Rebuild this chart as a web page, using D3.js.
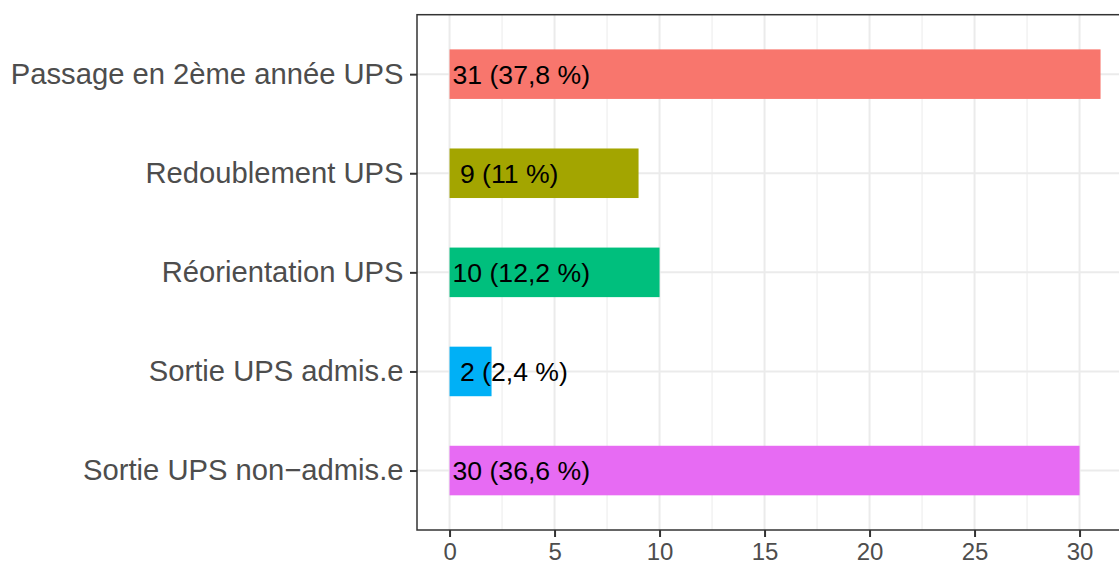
<!DOCTYPE html>
<html>
<head>
<meta charset="utf-8">
<script src="https://cdn.jsdelivr.net/npm/d3@7"></script>
<style>
  body { margin: 0; background: #fff; }
  text { font-family: "Liberation Sans", Arial, sans-serif; }
</style>
</head>
<body>
<div id="chart"></div>
<script>
var categories = ["Passage en 2ème année UPS", "Redoublement UPS", "Réorientation UPS",
    "Sortie UPS admis.e", "Sortie UPS non\u2212admis.e"];
var counts = [31, 9, 10, 2, 30];
var labels = ["31 (37,8 %)", " 9 (11 %)", "10 (12,2 %)", " 2 (2,4 %)", "30 (36,6 %)"];
var colours = ["#F8766D", "#A3A500", "#00BF7D", "#00B0F6", "#E76BF3"];
var xTicks = [0, 5, 10, 15, 20, 25, 30];
var xMinor = [2.5, 7.5, 12.5, 17.5, 22.5, 27.5, 32.5];

var width = 1119, height = 563;
var panel = { left: 417, top: 14.7, bottom: 530 };

var maxV = d3.max(counts);
var pad = maxV * 0.05;
var x = d3.scaleLinear()
    .domain([-pad, maxV + pad])
    .range([panel.left, panel.left + (maxV + 2 * pad) * 21]);

// discrete scale with 0.6 expansion on each side
var unit = (panel.bottom - panel.top) / (categories.length - 1 + 1.2);
var yc = d3.scalePoint()
    .domain(categories)
    .range([panel.top + 0.6 * unit, panel.bottom - 0.6 * unit]);
var barH = unit * 0.5;

var svg = d3.select("#chart")
    .append("svg")
    .attr("width", width)
    .attr("height", height);

var panelRight = x.range()[1];

// grid
svg.selectAll(".minor")
    .data(xMinor)
    .enter()
      .append("line")
      .attr("x1", function (d) { return x(d); })
      .attr("x2", function (d) { return x(d); })
      .attr("y1", panel.top)
      .attr("y2", panel.bottom)
      .attr("stroke", "#EBEBEB")
      .attr("stroke-width", 1);

svg.selectAll(".majorx")
    .data(xTicks)
    .enter()
      .append("line")
      .attr("x1", function (d) { return x(d); })
      .attr("x2", function (d) { return x(d); })
      .attr("y1", panel.top)
      .attr("y2", panel.bottom)
      .attr("stroke", "#EBEBEB")
      .attr("stroke-width", 2);

svg.selectAll(".majory")
    .data(categories)
    .enter()
      .append("line")
      .attr("x1", panel.left)
      .attr("x2", panelRight)
      .attr("y1", function (d) { return yc(d); })
      .attr("y2", function (d) { return yc(d); })
      .attr("stroke", "#EBEBEB")
      .attr("stroke-width", 2);

// bars
svg.selectAll(".bar")
    .data(categories)
    .enter()
      .append("rect")
      .attr("x", x(0))
      .attr("y", function (d) { return yc(d) - barH / 2; })
      .attr("width", function (d, i) { return x(counts[i]) - x(0); })
      .attr("height", barH)
      .attr("fill", function (d, i) { return colours[i]; });

// bar labels
svg.selectAll(".lab")
    .data(categories)
    .enter()
      .append("text")
      .attr("x", x(0) + 3)
      .attr("y", function (d) { return yc(d); })
      .attr("dy", "0.36em")
      .attr("font-size", 26.6)
      .attr("fill", "#000")
      .style("white-space", "pre")
      .text(function (d, i) { return labels[i]; });

// panel border
svg.append("rect")
    .attr("x", panel.left)
    .attr("y", panel.top)
    .attr("width", panelRight - panel.left)
    .attr("height", panel.bottom - panel.top)
    .attr("fill", "none")
    .attr("stroke", "#333333")
    .attr("stroke-width", 1.5);

// axes
var xAxis = d3.axisBottom(x).tickValues(xTicks).tickSize(7).tickPadding(5.5);
var gx = svg.append("g")
    .attr("transform", "translate(0," + panel.bottom + ")")
    .call(xAxis);
gx.select(".domain").remove();
gx.selectAll("line").attr("stroke", "#333333").attr("stroke-width", 2);
gx.selectAll("text")
    .attr("font-size", 24)
    .attr("fill", "#4D4D4D")
    .attr("font-family", "Liberation Sans, Arial, sans-serif");

var yAxis = d3.axisLeft(yc).tickSize(7).tickPadding(6.5);
var gy = svg.append("g")
    .attr("transform", "translate(" + panel.left + ",0)")
    .call(yAxis);
gy.select(".domain").remove();
gy.selectAll("line").attr("stroke", "#333333").attr("stroke-width", 2);
gy.selectAll("text")
    .attr("font-size", 29.2)
    .attr("fill", "#4D4D4D")
    .attr("font-family", "Liberation Sans, Arial, sans-serif");
</script>
</body>
</html>
